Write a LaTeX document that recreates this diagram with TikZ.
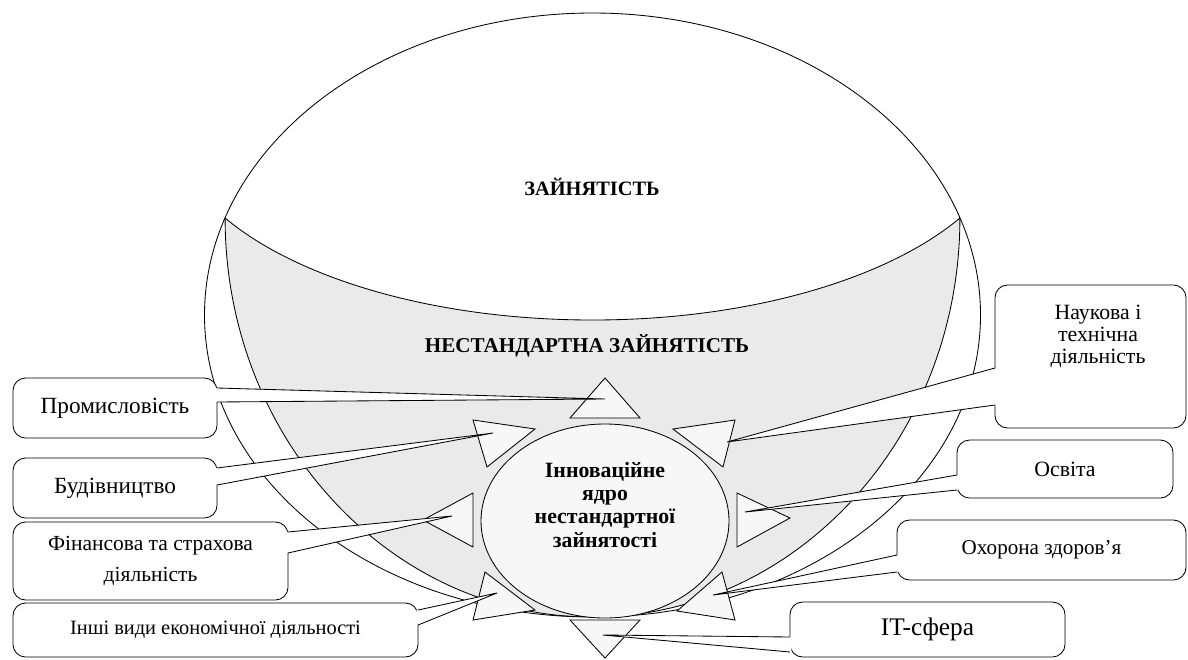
\documentclass[tikz,border=0pt]{standalone}
\usepackage{fontspec}
\setmainfont{Liberation Serif}
\usetikzlibrary{calc}
\definecolor{nonstd}{RGB}{234,234,234}
\definecolor{corefill}{RGB}{247,247,247}
\tikzset{every picture/.append style={line width=0.6pt}}
\tikzset{box/.style={draw, fill=white, rounded corners=9pt, outer sep=0pt, inner sep=0pt, align=center}}
\tikzset{ray/.style={draw, fill=corefill, line join=miter}}
\tikzset{heading/.style={font=\bfseries\fontsize{15}{18}\selectfont}}
% callout wedge: corner, two offsets down the edge, tip, inward shift
\newcommand{\pointer}[5]{%
  \fill[white] ($(#1)+(#5,-#2)$) -- (#4) -- ($(#1)+(#5,-#3)$) -- cycle;
  \draw ($(#1)+(0,-#2)$) -- (#4) -- ($(#1)+(0,-#3)$);}

\begin{document}
\begin{tikzpicture}[x=0.025cm, y=0.025cm]
\useasboundingbox (0,0) rectangle (1188,-659);
% employment
\begin{scope}
\clip (592.5,-315) ellipse [x radius=388, y radius=302];
\draw[fill=nonstd] (592.5,-218) ellipse [x radius=367.4, y radius=399];
\draw[fill=white] (592.5,-118) ellipse [x radius=422.8, y radius=202];
\end{scope}
\draw (592.5,-315) ellipse [x radius=388, y radius=302];
\node[heading, font=\bfseries\fontsize{14.5}{17}\selectfont] (zain) at (592,-187) {ЗАЙНЯТІСТЬ};
\node[heading] (nestd) at (587,-346) {НЕСТАНДАРТНА ЗАЙНЯТІСТЬ};
% core and rays
\foreach \ax/\ay/\bx/\by/\cx/\cy in {605/378/570/418/640/418, 473/420/535/429/487/467,
    735/420/673/429/723/467, 423/520/473/493/473/547, 790/518/737/493/737/547,
    473/620/485/572/535/610, 735/620/722/572/677/611, 605/658/570/620/640/620}
  \draw[ray] (\ax,-\ay) -- (\bx,-\by) -- (\cx,-\cy) -- cycle;
\draw[fill=corefill] (605,-521) ellipse [x radius=124, y radius=97];
\node[font=\bfseries\fontsize{15.5}{16.4}\selectfont, align=center] (core) at (605,-505)
  {Інноваційне\\ядро\\нестандартної\\зайнятості};
\coordinate (tprom) at (605,-399);
\coordinate (tbud) at (493,-433);
\coordinate (tfin) at (452,-516);
\coordinate (tinshi) at (497,-593);
\coordinate (tnauk) at (727,-442);
\coordinate (tosv) at (745,-512);
\coordinate (tohor) at (713,-595);
\coordinate (tit) at (603,-635);
% branches, left
\node[box, minimum width=5.1cm, minimum height=1.5cm, font=\fontsize{16.5}{19}\selectfont] (prom) at (115,-408) {Промисловість};
\pointer{prom.north east}{10}{24}{tprom}{-1.5}
\node[box, minimum width=5.1cm, minimum height=1.5cm, font=\fontsize{16.5}{19}\selectfont] (bud) at (115,-488) {Будівництво};
\pointer{bud.north east}{10}{27}{tbud}{-1.5}
\node[box, minimum width=6.875cm, minimum height=1.95cm, font=\fontsize{15.3}{21.5}\selectfont] (fin) at (150.5,-561) {Фінансова та страхова\\діяльність};
\pointer{fin.north east}{10}{31}{tfin}{-1.5}
\node[box, minimum width=10.125cm, minimum height=1.35cm, font=\fontsize{14.5}{17}\selectfont] (inshi) at (215.5,-630) {Інші види економічної діяльності};
\pointer{inshi.north east}{7}{22}{tinshi}{-1.5}
% branches, right
\node[box, minimum width=4.775cm, minimum height=3.575cm] (nauk) at (1090.5,-356.5) {};
\node[font=\fontsize{15.5}{15.6}\selectfont, align=center] (nauktext) at (1098,-336) {Наукова і\\технічна\\діяльність};
\pointer{nauk.north west}{83}{120}{tnauk}{1.5}
\node[box, minimum width=5.4cm, minimum height=1.45cm, font=\fontsize{15.5}{18}\selectfont] (osv) at (1065,-469) {Освіта};
\pointer{osv.north west}{35}{50}{tosv}{1.5}
\node[box, minimum width=7.225cm, minimum height=1.5cm, font=\fontsize{15}{18}\selectfont] (ohor) at (1041.5,-550) {Охорона здоров’я};
\pointer{ohor.north west}{35}{52}{tohor}{1.5}
\node[box, minimum width=6.875cm, minimum height=1.375cm, font=\fontsize{18}{21}\selectfont] (it) at (927.5,-629.5) {IT-сфера};
\pointer{it.north west}{35}{50}{tit}{1.5}
\end{tikzpicture}
\end{document}
